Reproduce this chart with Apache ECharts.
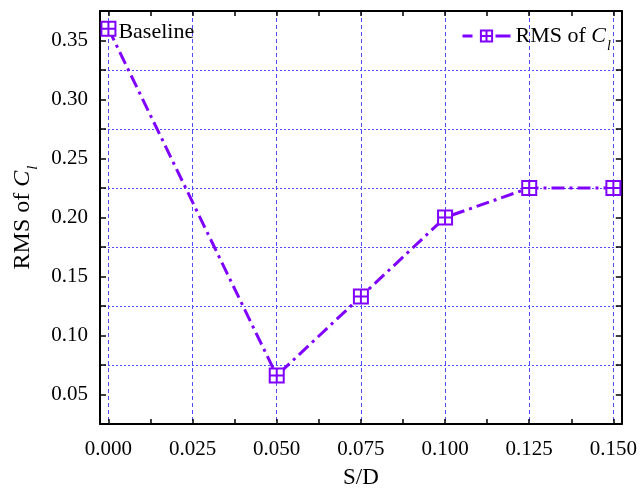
<!DOCTYPE html>
<html>
<head>
<meta charset="utf-8">
<script src="https://cdn.jsdelivr.net/npm/echarts@6/dist/echarts.min.js"></script>
<style>html,body{margin:0;padding:0;background:#fff;}#c{width:640px;height:494px;}</style>
</head>
<body>
<div id="c"></div>
<script>
// ---- data ----
const sdValues = [0, 0.05, 0.075, 0.1, 0.125, 0.15];
const rmsValues = [0.36, 0.066, 0.133, 0.20, 0.225, 0.225];
const pointLabels = ['Baseline', '', '', '', '', ''];
const xTickLabels = ['0.000', '0.025', '0.050', '0.075', '0.100', '0.125', '0.150'];
const xMinorTicks = [0.0125, 0.0375, 0.0625, 0.0875, 0.1125, 0.1375];
const yTickLabels = ['0.05', '0.10', '0.15', '0.20', '0.25', '0.30', '0.35'];

const PURPLE = '#8000ff';
const GRIDBLUE = '#4d4dff';
const CLEAR = 'rgba(0,0,0,0)';
const FONT = '"Liberation Serif", "Times New Roman", serif';

const xMajor = xTickLabels.map(Number);
const xAllTicks = xMajor.concat(xMinorTicks).sort((a, b) => a - b);

const symbolPath = 'path://M0,0L12,0L12,12L0,12Z M6,0L6,12 M0,6L12,6';

const seriesData = sdValues.map((x, i) => {
  const item = { value: [x, rmsValues[i]] };
  if (pointLabels[i]) {
    item.label = { show: true, formatter: pointLabels[i], position: 'right', distance: 2, offset: [0, 4],
      fontFamily: FONT, fontSize: 22, color: '#000' };
  }
  return item;
});

const richName = {
  a: { fontFamily: FONT, fontSize: 24, color: '#000' },
  i: { fontFamily: FONT, fontSize: 24, fontStyle: 'italic', color: '#000' },
  s: { fontFamily: FONT, fontSize: 15, fontStyle: 'italic', color: '#000', verticalAlign: 'bottom', padding: [0,0,-6,1] }
};
const richLegend = {
  a: { fontFamily: FONT, fontSize: 22, color: '#000' },
  i: { fontFamily: FONT, fontSize: 22, fontStyle: 'italic', color: '#000' },
  s: { fontFamily: FONT, fontSize: 14, fontStyle: 'italic', color: '#000', verticalAlign: 'bottom', padding: [0,0,-6,1] }
};

const axisLineStyle = { color: '#000', width: 2 };
const tickStyle = { color: '#000', width: 1.5 };

const chart = echarts.init(document.getElementById('c'), null, { renderer: 'canvas' });
chart.setOption({
  animation: false,
  backgroundColor: '#fff',
  grid: { left: 100, right: 17, top: 11, bottom: 61, containLabel: false },
  legend: {
    data: ['RMS'],
    left: 456, top: 20,
    itemWidth: 48, itemHeight: 14,
    lineStyle: { type: [10, 23, 15, 0], width: 3 },
    formatter: () => '{a|RMS of }{i|C}{s|l}',
    textStyle: { rich: richLegend, fontFamily: FONT, fontSize: 22, color: '#000' }
  },
  xAxis: [
    {
      type: 'value', position: 'bottom', min: -0.0025, max: 0.1525,
      name: 'S/D', nameLocation: 'middle', nameGap: 42,
      nameTextStyle: { fontFamily: FONT, fontSize: 23, color: '#000' },
      axisLine: { show: true, onZero: false, lineStyle: axisLineStyle },
      axisTick: { show: true, inside: true, length: 5, customValues: xAllTicks, lineStyle: tickStyle },
      axisLabel: { show: true, customValues: xMajor, margin: 15,
        formatter: v => { const s = v.toFixed(3); return xTickLabels.includes(s) ? s : ''; },
        fontFamily: FONT, fontSize: 21, color: '#000' },
      splitLine: { show: true, lineStyle: { color: [GRIDBLUE, CLEAR], type: [4, 3], width: 1 } }
    },
    {
      type: 'value', position: 'top', min: -0.0025, max: 0.1525,
      axisLine: { show: true, onZero: false, lineStyle: axisLineStyle },
      axisTick: { show: true, inside: true, length: 5, customValues: xAllTicks, lineStyle: tickStyle },
      axisLabel: { show: false },
      splitLine: { show: false }
    }
  ],
  yAxis: [
    {
      type: 'value', position: 'left', min: 0.025, max: 0.375, interval: 0.025,
      name: '{a|RMS of }{i|C}{s|l}', nameLocation: 'middle', nameGap: 62,
      nameTextStyle: { rich: richName, fontFamily: FONT, fontSize: 24, color: '#000' },
      axisLine: { show: true, onZero: false, lineStyle: axisLineStyle },
      axisTick: { show: true, inside: true, length: 6, lineStyle: tickStyle },
      axisLabel: { show: true, margin: 12,
        formatter: v => { const s = v.toFixed(2); return (yTickLabels.includes(s) && Math.abs(Number(s) - v) < 1e-6) ? s : ''; },
        fontFamily: FONT, fontSize: 21, color: '#000' },
      splitLine: { show: true, lineStyle: { color: [GRIDBLUE, CLEAR], type: [2, 2], width: 1 } }
    },
    {
      type: 'value', position: 'right', min: 0.025, max: 0.375, interval: 0.025,
      axisLine: { show: true, onZero: false, lineStyle: axisLineStyle },
      axisTick: { show: true, inside: true, length: 6, lineStyle: tickStyle },
      axisLabel: { show: false },
      splitLine: { show: false }
    }
  ],
  series: [
    {
      name: 'RMS', type: 'line', z: 3,
      data: seriesData,
      symbol: symbolPath, symbolSize: 14,
      showAllSymbol: true,
      lineStyle: { color: PURPLE, width: 3, type: [13, 5, 3, 5] },
      itemStyle: { color: '#fff', borderColor: PURPLE, borderWidth: 2 },
      emphasis: { disabled: true }
    }
  ]
});
</script>
</body>
</html>
